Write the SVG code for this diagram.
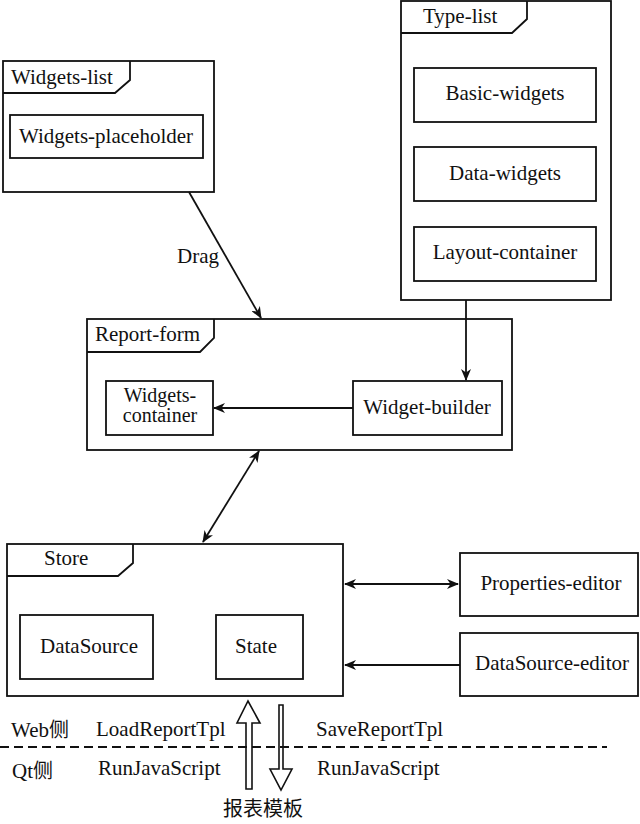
<svg xmlns="http://www.w3.org/2000/svg" width="640" height="824" viewBox="0 0 640 824">
<style>
  .frame { fill: #fff; stroke: #111; stroke-width: 1.8; }
  .box { fill: #fff; stroke: #111; stroke-width: 1.8; }
  .tab { fill: none; stroke: #111; stroke-width: 1.8; }
  text { font-family: Liberation Serif, Tinos, Times New Roman, Noto Sans CJK SC, serif; font-size: 21px; fill: #111; }
  .c { text-anchor: middle; }
  .sm { font-size: 20px; }
  .edge { fill: none; stroke: #111; stroke-width: 1.8; }
  .hollow { fill: #fff; stroke: #111; stroke-width: 1.6; }
  .dash { fill: none; stroke: #111; stroke-width: 1.8; stroke-dasharray: 9 5; }
  .cjk { font-family: Noto Sans CJK SC, sans-serif; font-size: 20px; }
</style>
<defs>
  <marker id="ah" viewBox="0 0 12 10" refX="11" refY="5" markerWidth="12" markerHeight="10" markerUnits="userSpaceOnUse" orient="auto-start-reverse">
    <path d="M0,0 L12,5 L0,10 L3.5,5 Z" fill="#111"/>
  </marker>
</defs>

<g id="widgets-list">
  <rect class="frame" x="3" y="61" width="211" height="131"/>
  <path class="tab" d="M130,61 L130,80 L115,93 L3,93"/>
  <text x="11" y="84">Widgets-list</text>
  <g id="widgets-placeholder">
    <rect class="box" x="10" y="115" width="193" height="43"/>
    <text class="c" x="106" y="143">Widgets-placeholder</text>
  </g>
</g>

<g id="type-list">
  <rect class="frame" x="401" y="1" width="210" height="299"/>
  <path class="tab" d="M527,1 L527,19 L512,33 L401,33"/>
  <text x="423" y="23">Type-list</text>
  <g id="basic-widgets">
    <rect class="box" x="414" y="68" width="182" height="54"/>
    <text class="c" x="505" y="100">Basic-widgets</text>
  </g>
  <g id="data-widgets">
    <rect class="box" x="414" y="147" width="182" height="54"/>
    <text class="c" x="505" y="180">Data-widgets</text>
  </g>
  <g id="layout-container">
    <rect class="box" x="414" y="227" width="182" height="54"/>
    <text class="c" x="505" y="259">Layout-container</text>
  </g>
</g>

<g id="report-form">
  <rect class="frame" x="87" y="319" width="425" height="131"/>
  <path class="tab" d="M214,319 L214,338 L200,352 L87,352"/>
  <text x="95" y="341">Report-form</text>
  <g id="widgets-container">
    <rect class="box" x="106" y="381" width="107" height="54"/>
    <text class="c sm" x="160" y="402">Widgets-</text>
    <text class="c sm" x="160" y="422">container</text>
  </g>
  <g id="widget-builder">
    <rect class="box" x="353" y="381" width="149" height="54"/>
    <text class="c" x="427" y="414">Widget-builder</text>
  </g>
</g>

<g id="store">
  <rect class="frame" x="7" y="544" width="336" height="152"/>
  <path class="tab" d="M133,544 L133,563 L118,576 L7,576"/>
  <text x="44" y="565">Store</text>
  <g id="datasource">
    <rect class="box" x="20" y="615" width="133" height="64"/>
    <text class="c" x="89" y="653">DataSource</text>
  </g>
  <g id="state">
    <rect class="box" x="216" y="615" width="87" height="64"/>
    <text class="c" x="256" y="653">State</text>
  </g>
</g>

<g id="properties-editor">
  <rect class="box" x="460" y="553" width="178" height="63"/>
  <text class="c" x="551" y="590">Properties-editor</text>
</g>

<g id="datasource-editor">
  <rect class="box" x="460" y="633" width="178" height="63"/>
  <text class="c" x="552" y="670">DataSource-editor</text>
</g>

<g id="connectors">
  <line class="edge" x1="189" y1="192" x2="261" y2="318" marker-end="url(#ah)"/>
  <text class="c" x="198" y="263">Drag</text>
  <line class="edge" x1="466" y1="300" x2="466" y2="380" marker-end="url(#ah)"/>
  <line class="edge" x1="353" y1="408" x2="214" y2="408" marker-end="url(#ah)"/>
  <line class="edge" x1="259" y1="451" x2="203" y2="542" marker-start="url(#ah)" marker-end="url(#ah)"/>
  <line class="edge" x1="345" y1="584" x2="458" y2="584" marker-start="url(#ah)" marker-end="url(#ah)"/>
  <line class="edge" x1="460" y1="665" x2="345" y2="665" marker-end="url(#ah)"/>
  <path class="hollow" d="M246,789 L246,723 L237,723 L248,701 L260,723 L252,723 L252,789 Z"/>
  <path class="hollow" d="M279,705 L283,705 L283,769 L292,769 L281,790 L270,769 L279,769 Z"/>
  <line class="dash" x1="0" y1="747" x2="607" y2="747"/>
</g>

<g id="labels">
  <text x="11" y="737">Web<tspan class="cjk">侧</tspan></text>
  <text x="12" y="778">Qt<tspan class="cjk">侧</tspan></text>
  <text x="96" y="736">LoadReportTpl</text>
  <text x="98" y="775">RunJavaScript</text>
  <text x="316" y="736">SaveReportTpl</text>
  <text x="317" y="775">RunJavaScript</text>
  <text class="cjk" x="223" y="816">报表模板</text>
</g>
</svg>
